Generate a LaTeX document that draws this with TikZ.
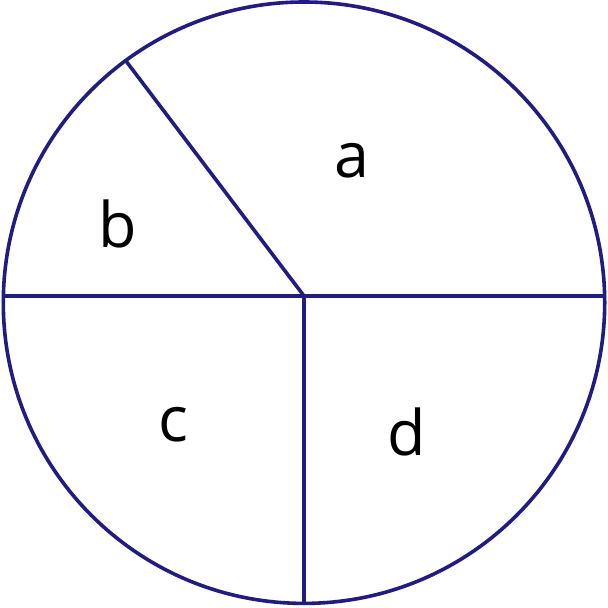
\documentclass[tikz,border=0pt]{standalone}
\usepackage{fontspec}
\setmainfont{Open Sans}
\definecolor{navy}{RGB}{32,28,130}
\begin{document}
\begin{tikzpicture}[x=1bp,y=-1bp,
  edge/.style={draw=navy,line width=3.6bp},
  lbl/.style={font=\fontsize{63}{63}\selectfont,inner sep=0pt,text=black}]
\useasboundingbox (0,0) rectangle (608,608);
\coordinate (O) at (304,302.7);
\coordinate (J) at (304,296);
\coordinate (L) at (3.9,296);
\coordinate (R) at (604.1,296);
\coordinate (B) at (304,603.7);
\coordinate (T) at (126,61);
\draw[edge] (O) circle[radius=300.7];
\draw[edge] (L) -- (R);
\draw[edge] (J) -- (B);
\draw[edge] (J) -- (T);
\node[lbl] (a) at (352,161) {a};
\node[lbl] (b) at (118,223.5) {b};
\node[lbl] (c) at (173.5,425) {c};
\node[lbl] (d) at (406.5,432) {d};
\end{tikzpicture}
\end{document}
